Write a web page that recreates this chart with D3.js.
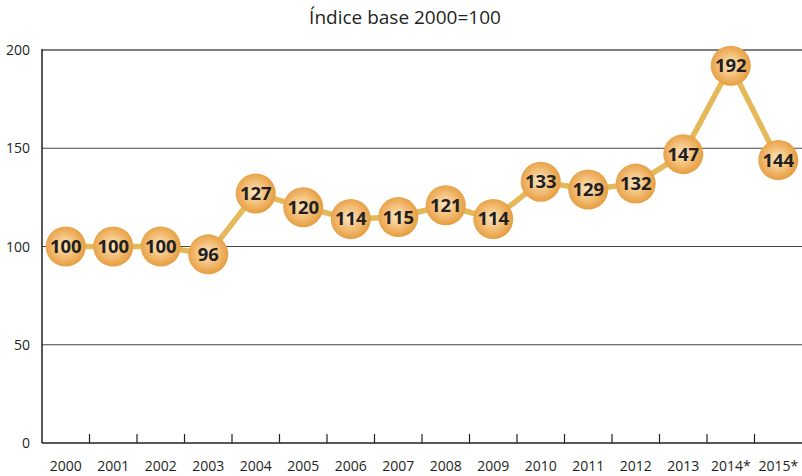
<!DOCTYPE html>
<html><head><meta charset="utf-8">
<script src="https://cdn.jsdelivr.net/npm/d3@7"></script>
<style>body{margin:0;background:#fff}</style>
</head><body>
<svg id="c" width="802" height="476"></svg>
<script>
const years = ["2000","2001","2002","2003","2004","2005","2006","2007","2008","2009","2010","2011","2012","2013","2014*","2015*"];
const values = [100,100,100,96,127,120,114,115,121,114,133,129,132,147,192,144];
const yTicks = [0,50,100,150,200];
const title = "Índice base 2000=100";

const svg = d3.select("#c");
const m = {l:42, r:802, t:50, b:443};
const x = d3.scaleBand().domain(years).range([m.l, m.r]);
const y = d3.scaleLinear().domain([0,200]).range([m.b, m.t]);
const font = "'Open Sans', 'DejaVu Sans', sans-serif";

const defs = svg.append("defs");
const g = defs.append("radialGradient").attr("id","ball").attr("cx","48%").attr("cy","48%").attr("r","55%");
g.append("stop").attr("offset","0%").attr("stop-color","#fbe8c4");
g.append("stop").attr("offset","50%").attr("stop-color","#f3bf78");
g.append("stop").attr("offset","100%").attr("stop-color","#e5993a");

svg.append("text").attr("x",405).attr("y",24).attr("text-anchor","middle")
  .attr("font-family",font).attr("font-size",19).attr("fill","#231f20").text(title);

// gridlines
svg.append("g").selectAll("line").data(yTicks.filter(d=>d>0)).join("line")
  .attr("x1",m.l).attr("x2",m.r).attr("y1",d=>y(d)).attr("y2",d=>y(d))
  .attr("stroke",d=>d===200?"#555":"#444").attr("stroke-width",d=>d===200?1.6:1.2);

// y labels
svg.append("g").selectAll("text").data(yTicks).join("text")
  .attr("x",30).attr("y",d=>y(d)+5).attr("text-anchor","end")
  .attr("font-family",font).attr("font-size",14).attr("fill","#231f20").text(d=>d);

// left axis
svg.append("line").attr("x1",m.l).attr("x2",m.l).attr("y1",m.t-1).attr("y2",m.b).attr("stroke","#231f20").attr("stroke-width",1.5);
// bottom axis
svg.append("line").attr("x1",m.l).attr("x2",m.r).attr("y1",m.b).attr("y2",m.b).attr("stroke","#231f20").attr("stroke-width",1.5);
svg.append("g").selectAll("line").data(years.slice(1)).join("line")
  .attr("x1",d=>x(d)).attr("x2",d=>x(d)).attr("y1",m.b).attr("y2",m.b-9)
  .attr("stroke","#231f20").attr("stroke-width",1.2);
svg.append("g").selectAll("text").data(years).join("text")
  .attr("x",d=>x(d)+x.bandwidth()/2).attr("y",471).attr("text-anchor","middle")
  .attr("font-family",font).attr("font-size",14).attr("fill","#231f20").text(d=>d);

// line
const pts = years.map((d,i)=>[x(d)+x.bandwidth()/2, y(values[i])]);
svg.append("path").attr("d",d3.line()(pts)).attr("fill","none")
  .attr("stroke","#e3b95a").attr("stroke-width",5.5).attr("stroke-linejoin","round");

// balls
const b = svg.append("g").selectAll("g").data(years).join("g")
  .attr("transform",(d,i)=>`translate(${x(d)+x.bandwidth()/2},${y(values[i])})`);
b.append("circle").attr("r",20).attr("fill","url(#ball)");
b.append("text").attr("y",6.5).attr("text-anchor","middle").attr("font-family",font)
  .attr("font-weight","bold").attr("font-size",18.5).attr("fill","#231f20").text((d,i)=>values[i]);
</script>
</body></html>
